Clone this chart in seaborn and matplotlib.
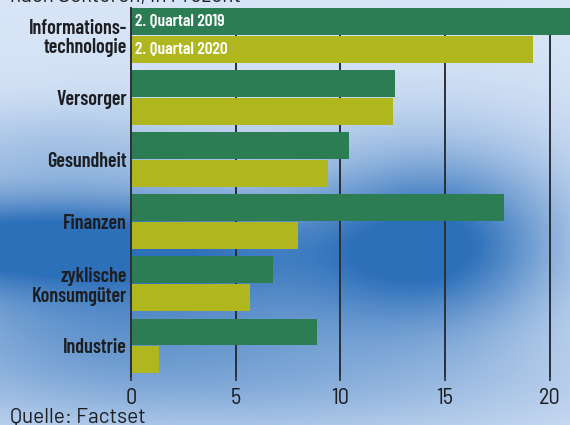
import numpy as np
import pandas as pd
import matplotlib
matplotlib.use("Agg")
import matplotlib.pyplot as plt
import seaborn as sns

# Data (Anteil in Prozent)
sektoren = ["Informations-\ntechnologie", "Versorger", "Gesundheit", "Finanzen",
            "zyklische\nKonsumgüter", "Industrie"]
q2_2019 = [22.0, 12.6, 10.4, 17.8, 6.8, 8.9]
q2_2020 = [19.2, 12.5, 9.4, 8.0, 5.7, 1.35]
serien = ["2. Quartal 2019", "2. Quartal 2020"]
x_ticks = [0, 5, 10, 15, 20]

# Long-form table for seaborn
df = pd.DataFrame({
    "Sektor": sektoren * 2,
    "Anteil": q2_2019 + q2_2020,
    "Zeitraum": [serien[0]] * len(sektoren) + [serien[1]] * len(sektoren),
})

sns.set_theme(style="white")
plt.rcParams["font.family"] = ["Barlow Condensed", "DejaVu Sans"]

green = "#2c7d54"
yellow = "#b0b71e"
ink = "#1c1e22"

fig = plt.figure(figsize=(5.7, 4.25), dpi=100)

# Blue, cloudy background
W, H = 570, 425
xx, yy = np.meshgrid(np.arange(W), np.arange(H))

def blob(cx, cy, sx, sy):
    return np.exp(-(((xx - cx) / sx) ** 2 + ((yy - cy) / sy) ** 2) / 2)

t = (0.9 * blob(0, 240, 170, 35)
     + 0.8 * blob(440, 240, 85, 60)
     + 0.5 * blob(260, 275, 170, 60)
     + 0.35 * blob(250, 385, 260, 45)
     + 0.35 * blob(60, 320, 140, 50)
     + 0.2 * blob(40, 150, 110, 30)
     + 0.12 * blob(300, 150, 250, 60))
t = np.clip(t, 0, 1)
light = np.array([0.85, 0.90, 0.97])
dark = np.array([0.18, 0.44, 0.73])
img = light[None, None, :] * (1 - t[..., None]) + dark[None, None, :] * t[..., None]
bg = fig.add_axes([0, 0, 1, 1], zorder=0)
bg.imshow(img, aspect="auto", extent=[0, W, H, 0])
bg.axis("off")

ax = fig.add_axes([131 / W, 1 - 377 / H, 1 - 131 / W, (377 - 7.5) / H], zorder=1)
ax.patch.set_alpha(0)

sns.barplot(data=df, y="Sektor", x="Anteil", hue="Zeitraum", orient="h",
            palette=[green, yellow], saturation=1, width=0.9, gap=0.035,
            linewidth=0, legend=False, ax=ax)

ax.set_xlim(0, (W - 131) / 20.93)
ax.set_ylim(5.5, -0.455)
ax.set_xticks(x_ticks)
ax.set_xticklabels([str(v) for v in x_ticks], fontsize=16, color=ink,
                   family=["Barlow Semi Condensed", "DejaVu Sans"])
ax.set_xlabel("")
ax.set_ylabel("")
ax.set_yticks(range(len(sektoren)))
ax.set_yticklabels(sektoren, fontsize=14.5, fontweight="semibold", color=ink,
                   linespacing=1.05)

ax.set_axisbelow(True)
ax.xaxis.grid(True, color="#2b2f36", linewidth=1.4)
ax.yaxis.grid(False)
for side in ["top", "right", "bottom"]:
    ax.spines[side].set_visible(False)
ax.spines["left"].set_color("#2b2f36")
ax.spines["left"].set_linewidth(1.4)
ax.tick_params(axis="x", bottom=True, length=3, width=1.2, color="#2b2f36", pad=5)
ax.tick_params(axis="y", left=False, length=0, pad=3)

# Series names written inside the first pair of bars
for cont, name in zip(ax.containers, serien):
    bar = cont[0]
    ax.text(0.2, bar.get_y() + bar.get_height() / 2, name, color="white",
            fontsize=12.5, fontweight="semibold", va="center", ha="left")

fig.text(10 / W, 1 - 2 / H, "nach Sektoren, in Prozent", fontsize=15, color=ink,
         va="baseline", ha="left", family=["Barlow", "DejaVu Sans"])
fig.text(10 / W, 2 / H, "Quelle: Factset", fontsize=15, color=ink,
         va="baseline", ha="left", family=["Barlow", "DejaVu Sans"])

fig.savefig("out.png", dpi=100)
